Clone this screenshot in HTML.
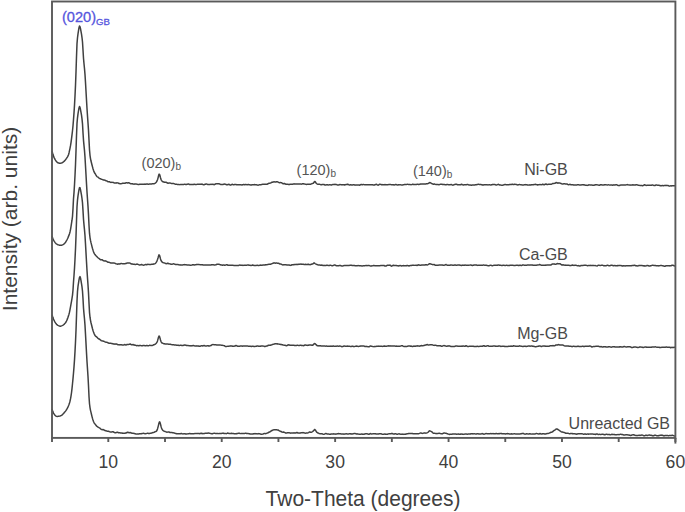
<!DOCTYPE html>
<html><head><meta charset="utf-8"><style>
html,body{margin:0;padding:0;background:#fff;}
body{width:685px;height:512px;overflow:hidden;}
svg{display:block;font-family:"Liberation Sans",sans-serif;}
</style></head><body>
<svg width="685" height="512" viewBox="0 0 685 512">
<rect width="685" height="512" fill="#fff"/>
<g fill="none" stroke="#404040" stroke-width="1.5" stroke-linejoin="round">
<path d="M52,150.91 52.5,152.85 53,154.60 53.5,156.13 54,157.39 54.5,158.46 55,159.41 55.5,160.23 56,160.90 56.5,161.51 57,162.08 57.5,162.54 58,162.81 58.5,162.94 59,163.05 59.5,163.14 60,163.19 60.5,163.20 61,163.13 61.5,162.97 62,162.78 62.5,162.54 63,162.20 63.5,161.80 64,161.36 64.5,160.88 65,160.32 65.5,159.71 66,159.06 66.5,158.37 67,157.59 67.5,156.80 68,155.93 68.5,154.80 69,152.95 69.5,150.71 70,148.33 70.5,145.68 71,142.61 71.5,138.92 72,134.89 72.5,130.74 73,125.71 73.5,119.54 74,112.91 74.5,105.08 75,95.94 75.5,85.35 76,71.97 76.5,56.73 77,43.61 77.5,37.75 78,33.85 78.5,30.63 79,27.66 79.5,26.05 80,26.62 80.5,28.68 81,31.41 81.5,34.16 82,37.53 82.5,42.01 83,49.99 83.5,58.30 84,63.77 84.5,68.61 85,74.44 85.5,82.55 86,91.17 86.5,100.01 87,108.55 87.5,116.04 88,122.96 88.5,130.41 89,140.16 89.5,149.78 90,155.29 90.5,158.55 91,161.05 91.5,163.04 92,165.00 92.5,166.91 93,168.69 93.5,170.28 94,171.68 94.5,172.79 95,173.47 95.5,174.18 96,175.12 96.5,175.99 97,176.55 97.5,176.83 98,177.09 98.5,177.53 99,178.13 99.5,178.43 100,178.61 100.5,178.75 101,178.98 101.5,179.18 102,179.36 102.5,179.59 103,179.82 103.5,180.00 104,180.01 104.5,180.06 105,180.30 105.5,180.55 106,180.70 106.5,180.89 107,181.06 107.5,181.47 108,181.77 108.5,181.78 109,181.68 109.5,181.71 110,182.10 110.5,182.35 111,182.44 111.5,182.36 112,182.25 112.5,182.38 113,182.46 113.5,182.53 114,182.78 114.5,182.93 115,183.09 115.5,183.11 116,183.10 116.5,182.98 117,182.79 117.5,182.87 118,182.96 118.5,183.25 119,183.44 119.5,183.57 120,183.75 120.5,183.83 121,183.80 121.5,183.64 122,183.48 122.5,183.35 123,183.27 123.5,183.24 124,183.24 124.5,183.27 125,183.27 125.5,183.04 126,182.85 126.5,182.74 127,182.83 127.5,182.98 128,182.91 128.5,182.77 129,182.83 129.5,183.03 130,183.39 130.5,183.75 131,183.74 131.5,183.77 132,183.75 132.5,183.81 133,184.03 133.5,184.11 134,184.15 134.5,184.04 135,183.96 135.5,183.91 136,183.96 136.5,184.07 137,184.16 137.5,184.31 138,184.39 138.5,184.45 139,184.40 139.5,184.30 140,184.25 140.5,184.18 141,184.21 141.5,184.27 142,184.35 142.5,184.30 143,184.28 143.5,184.23 144,184.15 144.5,184.17 145,184.07 145.5,184.15 146,184.17 146.5,184.09 147,184.00 147.5,184.06 148,184.18 148.5,184.18 149,184.13 149.5,183.89 150,183.98 150.5,183.98 151,183.98 151.5,184.04 152,183.82 152.5,183.81 153,183.75 153.5,183.73 154,183.73 154.5,183.57 155,183.29 155.5,182.97 156,182.50 156.5,181.88 157,180.97 157.5,179.79 158,178.12 158.5,175.98 159,174.29 159.5,174.15 160,175.76 160.5,177.76 161,179.33 161.5,180.33 162,181.04 162.5,181.58 163,181.73 163.5,181.94 164,182.04 164.5,182.15 165,182.26 165.5,182.18 166,182.22 166.5,182.41 167,182.78 167.5,183.05 168,183.23 168.5,183.18 169,182.97 169.5,182.94 170,182.98 170.5,183.14 171,183.37 171.5,183.48 172,183.50 172.5,183.46 173,183.42 173.5,183.47 174,183.63 174.5,183.88 175,184.13 175.5,184.25 176,184.33 176.5,184.34 177,184.35 177.5,184.50 178,184.45 178.5,184.42 179,184.53 179.5,184.62 180,184.63 180.5,184.53 181,184.47 181.5,184.52 182,184.52 182.5,184.53 183,184.39 183.5,184.38 184,184.38 184.5,184.23 185,184.35 185.5,184.39 186,184.36 186.5,184.41 187,184.29 187.5,184.15 188,184.10 188.5,184.06 189,184.23 189.5,184.43 190,184.49 190.5,184.48 191,184.43 191.5,184.50 192,184.53 192.5,184.53 193,184.56 193.5,184.40 194,184.29 194.5,184.33 195,184.42 195.5,184.52 196,184.53 196.5,184.38 197,184.37 197.5,184.33 198,184.32 198.5,184.24 199,184.29 199.5,184.34 200,184.24 200.5,184.23 201,184.11 201.5,184.20 202,184.24 202.5,184.26 203,184.57 203.5,184.64 204,184.69 204.5,184.50 205,184.28 205.5,184.23 206,184.06 206.5,184.06 207,184.13 207.5,184.43 208,184.50 208.5,184.46 209,184.62 209.5,184.57 210,184.52 210.5,184.36 211,184.16 211.5,184.31 212,184.42 212.5,184.37 213,184.32 213.5,184.46 214,184.67 214.5,184.54 215,184.28 215.5,183.90 216,183.81 216.5,183.87 217,183.85 217.5,183.85 218,183.81 218.5,183.82 219,183.79 219.5,183.93 220,184.18 220.5,184.42 221,184.51 221.5,184.58 222,184.56 222.5,184.55 223,184.48 223.5,184.32 224,184.25 224.5,184.06 225,184.12 225.5,184.28 226,184.45 226.5,184.71 227,184.70 227.5,184.72 228,184.53 228.5,184.33 229,184.33 229.5,184.55 230,184.96 230.5,185.14 231,185.01 231.5,184.61 232,184.37 232.5,184.34 233,184.59 233.5,184.76 234,184.73 234.5,184.59 235,184.50 235.5,184.49 236,184.54 236.5,184.69 237,184.69 237.5,184.73 238,184.70 238.5,184.73 239,184.79 239.5,184.75 240,184.66 240.5,184.70 241,184.74 241.5,184.88 242,184.93 242.5,184.78 243,184.67 243.5,184.56 244,184.58 244.5,184.71 245,184.70 245.5,184.59 246,184.52 246.5,184.64 247,184.64 247.5,184.64 248,184.56 248.5,184.55 249,184.69 249.5,184.69 250,184.85 250.5,184.93 251,185.00 251.5,184.96 252,184.79 252.5,184.76 253,184.72 253.5,184.65 254,184.66 254.5,184.61 255,184.71 255.5,184.80 256,184.77 256.5,184.85 257,184.92 257.5,185.08 258,185.16 258.5,185.02 259,184.86 259.5,184.70 260,184.71 260.5,184.77 261,184.69 261.5,184.60 262,184.39 262.5,184.37 263,184.36 263.5,184.24 264,184.25 264.5,184.22 265,184.16 265.5,184.16 266,184.26 266.5,184.19 267,184.26 267.5,184.01 268,183.71 268.5,183.58 269,183.20 269.5,183.16 270,183.13 270.5,183.00 271,182.85 271.5,182.45 272,182.20 272.5,182.18 273,182.04 273.5,181.95 274,181.84 274.5,181.84 275,182.08 275.5,182.09 276,181.95 276.5,181.84 277,181.78 277.5,181.86 278,182.05 278.5,182.30 279,182.54 279.5,182.65 280,182.67 280.5,182.56 281,182.63 281.5,182.69 282,183.01 282.5,183.45 283,183.68 283.5,183.79 284,183.51 284.5,183.53 285,183.78 285.5,183.99 286,184.26 286.5,184.30 287,184.17 287.5,184.26 288,184.35 288.5,184.45 289,184.56 289.5,184.51 290,184.31 290.5,184.24 291,184.29 291.5,184.22 292,184.35 292.5,184.29 293,184.06 293.5,184.00 294,183.84 294.5,183.91 295,183.97 295.5,184.03 296,184.05 296.5,184.04 297,184.04 297.5,183.92 298,184.02 298.5,184.06 299,184.09 299.5,183.95 300,183.88 300.5,183.98 301,184.07 301.5,184.14 302,183.96 302.5,183.82 303,183.75 303.5,183.78 304,183.95 304.5,184.04 305,184.13 305.5,184.20 306,184.27 306.5,184.41 307,184.36 307.5,184.28 308,184.27 308.5,184.23 309,184.31 309.5,184.22 310,184.23 310.5,184.15 311,184.03 311.5,183.86 312,183.61 312.5,183.55 313,183.38 313.5,183.03 314,182.23 314.5,181.59 315,181.61 315.5,182.12 316,182.93 316.5,183.53 317,183.92 317.5,184.20 318,184.21 318.5,184.20 319,184.16 319.5,184.22 320,184.42 320.5,184.62 321,184.80 321.5,184.71 322,184.59 322.5,184.52 323,184.40 323.5,184.45 324,184.56 324.5,184.73 325,184.99 325.5,185.04 326,184.92 326.5,184.87 327,184.81 327.5,184.83 328,184.93 328.5,184.89 329,184.85 329.5,184.75 330,184.72 330.5,184.83 331,184.91 331.5,184.93 332,184.77 332.5,184.60 333,184.55 333.5,184.50 334,184.52 334.5,184.44 335,184.34 335.5,184.42 336,184.48 336.5,184.59 337,184.80 337.5,184.91 338,185.07 338.5,185.05 339,184.86 339.5,184.76 340,184.56 340.5,184.61 341,184.64 341.5,184.75 342,184.89 342.5,184.75 343,184.77 343.5,184.79 344,184.82 344.5,184.99 345,184.77 345.5,184.64 346,184.54 346.5,184.51 347,184.52 347.5,184.29 348,184.33 348.5,184.55 349,184.83 349.5,185.05 350,184.97 350.5,184.80 351,184.85 351.5,184.93 352,184.90 352.5,184.90 353,184.84 353.5,184.66 354,184.80 354.5,184.95 355,184.98 355.5,185.13 356,185.00 356.5,184.88 357,184.99 357.5,184.93 358,184.96 358.5,185.05 359,185.08 359.5,185.16 360,185.01 360.5,184.67 361,184.57 361.5,184.52 362,184.66 362.5,184.66 363,184.56 363.5,184.52 364,184.62 364.5,184.69 365,184.71 365.5,184.72 366,184.72 366.5,184.74 367,184.70 367.5,184.65 368,184.65 368.5,184.81 369,184.80 369.5,184.80 370,184.72 370.5,184.72 371,184.76 371.5,184.70 372,184.68 372.5,184.68 373,184.89 373.5,184.99 374,184.99 374.5,184.99 375,184.74 375.5,184.55 376,184.31 376.5,184.23 377,184.63 377.5,184.93 378,185.13 378.5,185.08 379,184.68 379.5,184.33 380,184.24 380.5,184.40 381,184.58 381.5,184.76 382,184.60 382.5,184.66 383,184.87 383.5,184.84 384,184.80 384.5,184.68 385,184.54 385.5,184.67 386,184.66 386.5,184.65 387,184.74 387.5,184.69 388,184.67 388.5,184.58 389,184.46 389.5,184.43 390,184.45 390.5,184.54 391,184.62 391.5,184.74 392,184.79 392.5,184.68 393,184.77 393.5,184.83 394,184.95 394.5,184.91 395,184.70 395.5,184.53 396,184.53 396.5,184.70 397,184.82 397.5,184.91 398,184.90 398.5,184.78 399,184.80 399.5,184.87 400,184.85 400.5,184.81 401,184.88 401.5,184.94 402,184.95 402.5,184.99 403,184.85 403.5,184.73 404,184.67 404.5,184.45 405,184.41 405.5,184.46 406,184.43 406.5,184.44 407,184.38 407.5,184.28 408,184.37 408.5,184.43 409,184.41 409.5,184.53 410,184.49 410.5,184.64 411,184.75 411.5,184.64 412,184.50 412.5,184.30 413,184.26 413.5,184.41 414,184.53 414.5,184.55 415,184.59 415.5,184.49 416,184.50 416.5,184.42 417,184.32 417.5,184.30 418,184.31 418.5,184.46 419,184.41 419.5,184.30 420,184.10 420.5,184.07 421,184.15 421.5,184.01 422,184.02 422.5,184.01 423,184.02 423.5,184.02 424,183.89 424.5,183.97 425,184.04 425.5,184.04 426,183.92 426.5,183.71 427,183.67 427.5,183.66 428,183.59 428.5,183.34 429,182.97 429.5,182.75 430,182.57 430.5,182.80 431,183.08 431.5,183.35 432,183.75 432.5,183.91 433,184.15 433.5,184.21 434,184.05 434.5,184.06 435,184.23 435.5,184.36 436,184.58 436.5,184.52 437,184.40 437.5,184.45 438,184.44 438.5,184.63 439,184.66 439.5,184.53 440,184.34 440.5,184.16 441,184.14 441.5,184.14 442,184.30 442.5,184.40 443,184.36 443.5,184.57 444,184.61 444.5,184.61 445,184.71 445.5,184.70 446,184.76 446.5,184.66 447,184.39 447.5,184.39 448,184.56 448.5,184.64 449,184.64 449.5,184.65 450,184.65 450.5,184.63 451,184.47 451.5,184.54 452,184.88 452.5,185.11 453,185.16 453.5,184.97 454,184.66 454.5,184.53 455,184.43 455.5,184.31 456,184.35 456.5,184.33 457,184.51 457.5,184.72 458,184.83 458.5,184.77 459,184.72 459.5,184.67 460,184.77 460.5,184.79 461,184.50 461.5,184.33 462,184.42 462.5,184.71 463,184.94 463.5,184.96 464,184.85 464.5,184.87 465,184.83 465.5,184.73 466,184.69 466.5,184.64 467,184.56 467.5,184.52 468,184.61 468.5,184.79 469,184.93 469.5,184.94 470,185.05 470.5,185.10 471,185.14 471.5,185.19 472,185.06 472.5,185.02 473,184.96 473.5,184.98 474,185.05 474.5,185.03 475,184.91 475.5,184.68 476,184.68 476.5,184.67 477,184.57 477.5,184.55 478,184.33 478.5,184.28 479,184.38 479.5,184.38 480,184.60 480.5,184.61 481,184.60 481.5,184.69 482,184.79 482.5,185.02 483,185.03 483.5,184.95 484,184.80 484.5,184.81 485,184.78 485.5,184.79 486,184.76 486.5,184.72 487,184.74 487.5,184.85 488,184.88 488.5,184.87 489,184.84 489.5,184.76 490,184.86 490.5,184.88 491,184.92 491.5,184.78 492,184.68 492.5,184.51 493,184.47 493.5,184.50 494,184.43 494.5,184.47 495,184.60 495.5,184.83 496,184.95 496.5,185.02 497,184.87 497.5,184.62 498,184.43 498.5,184.32 499,184.56 499.5,184.94 500,184.97 500.5,185.08 501,185.12 501.5,185.13 502,185.19 502.5,185.14 503,185.09 503.5,184.98 504,184.85 504.5,184.57 505,184.56 505.5,184.60 506,184.67 506.5,184.79 507,184.69 507.5,184.75 508,184.68 508.5,184.73 509,184.67 509.5,184.57 510,184.57 510.5,184.54 511,184.59 511.5,184.41 512,184.30 512.5,184.28 513,184.47 513.5,184.59 514,184.45 514.5,184.28 515,184.24 515.5,184.37 516,184.48 516.5,184.59 517,184.73 517.5,184.91 518,184.89 518.5,184.76 519,184.65 519.5,184.51 520,184.59 520.5,184.63 521,184.67 521.5,184.83 522,184.88 522.5,184.98 523,185.09 523.5,185.05 524,184.89 524.5,184.70 525,184.65 525.5,184.62 526,184.70 526.5,184.73 527,184.81 527.5,185.02 528,185.12 528.5,185.05 529,184.95 529.5,184.90 530,184.84 530.5,184.92 531,184.92 531.5,184.85 532,184.87 532.5,184.78 533,184.81 533.5,184.72 534,184.58 534.5,184.50 535,184.40 535.5,184.34 536,184.47 536.5,184.64 537,184.80 537.5,184.96 538,184.84 538.5,184.87 539,184.73 539.5,184.61 540,184.58 540.5,184.61 541,184.74 541.5,184.64 542,184.46 542.5,184.26 543,184.32 543.5,184.55 544,184.77 544.5,184.67 545,184.31 545.5,184.10 546,184.08 546.5,184.25 547,184.46 547.5,184.48 548,184.39 548.5,184.26 549,184.15 549.5,184.15 550,184.19 550.5,184.33 551,184.28 551.5,184.16 552,183.89 552.5,183.54 553,183.46 553.5,183.43 554,183.41 554.5,183.34 555,183.21 555.5,182.96 556,182.59 556.5,182.58 557,182.79 557.5,183.11 558,183.18 558.5,182.87 559,182.94 559.5,182.95 560,183.09 560.5,183.29 561,183.43 561.5,183.80 562,183.88 562.5,184.03 563,184.03 563.5,183.85 564,183.74 564.5,183.72 565,183.91 565.5,184.10 566,184.06 566.5,183.91 567,184.02 567.5,184.23 568,184.60 568.5,184.77 569,184.62 569.5,184.41 570,184.34 570.5,184.52 571,184.77 571.5,184.82 572,184.80 572.5,184.77 573,184.81 573.5,184.92 574,184.89 574.5,184.93 575,184.96 575.5,184.99 576,184.94 576.5,184.90 577,184.89 577.5,184.73 578,184.72 578.5,184.70 579,184.85 579.5,185.02 580,184.98 580.5,184.97 581,184.92 581.5,184.90 582,184.75 582.5,184.80 583,184.77 583.5,184.79 584,184.89 584.5,184.87 585,185.06 585.5,185.14 586,185.20 586.5,185.22 587,185.39 587.5,185.31 588,185.19 588.5,185.03 589,184.80 589.5,184.87 590,184.99 590.5,185.04 591,184.99 591.5,184.94 592,184.93 592.5,185.18 593,185.36 593.5,185.34 594,185.21 594.5,185.02 595,184.93 595.5,184.82 596,184.78 596.5,184.76 597,184.80 597.5,184.87 598,184.99 598.5,185.13 599,185.26 599.5,185.22 600,184.96 600.5,184.81 601,184.77 601.5,184.84 602,184.91 602.5,184.98 603,185.04 603.5,185.01 604,184.92 604.5,184.77 605,184.77 605.5,184.78 606,184.78 606.5,184.87 607,184.93 607.5,184.96 608,184.87 608.5,184.80 609,184.88 609.5,185.05 610,185.12 610.5,184.98 611,184.97 611.5,184.99 612,185.10 612.5,185.18 613,185.00 613.5,184.90 614,184.86 614.5,184.97 615,185.10 615.5,184.88 616,184.69 616.5,184.63 617,184.85 617.5,185.20 618,185.42 618.5,185.55 619,185.58 619.5,185.56 620,185.25 620.5,185.10 621,185.04 621.5,185.01 622,185.10 622.5,185.07 623,185.03 623.5,185.02 624,184.93 624.5,184.93 625,184.95 625.5,184.99 626,184.88 626.5,184.78 627,184.66 627.5,184.59 628,184.77 628.5,184.87 629,185.01 629.5,185.03 630,185.12 630.5,185.10 631,185.14 631.5,185.01 632,184.84 632.5,184.90 633,184.84 633.5,184.96 634,185.06 634.5,185.03 635,185.05 635.5,184.98 636,184.82 636.5,184.83 637,184.79 637.5,184.98 638,185.12 638.5,185.27 639,185.31 639.5,185.38 640,185.51 640.5,185.46 641,185.52 641.5,185.46 642,185.55 642.5,185.68 643,185.63 643.5,185.41 644,185.00 644.5,184.75 645,184.88 645.5,185.14 646,185.39 646.5,185.38 647,185.26 647.5,185.19 648,185.22 648.5,185.16 649,185.21 649.5,185.15 650,185.13 650.5,185.19 651,185.14 651.5,185.18 652,185.09 652.5,185.10 653,185.09 653.5,185.37 654,185.53 654.5,185.53 655,185.47 655.5,185.20 656,185.04 656.5,185.01 657,185.11 657.5,185.19 658,185.34 658.5,185.26 659,185.26 659.5,185.41 660,185.51 660.5,185.67 661,185.63 661.5,185.63 662,185.58 662.5,185.60 663,185.69 663.5,185.66 664,185.58 664.5,185.53 665,185.43 665.5,185.40 666,185.37 666.5,185.40 667,185.54 667.5,185.49 668,185.52 668.5,185.65 669,185.98 669.5,186.15 670,186.01 670.5,185.84 671,185.82 671.5,185.90 672,185.80 672.5,185.76 673,185.77 673.5,185.74 674,185.73 674.5,185.66 675,185.68"/>
<path d="M52,236.00 52.5,237.42 53,238.71 53.5,239.85 54,240.79 54.5,241.61 55,242.36 55.5,243.02 56,243.53 56.5,243.90 57,244.23 57.5,244.50 58,244.71 58.5,244.89 59,245.04 59.5,245.17 60,245.28 60.5,245.34 61,245.36 61.5,245.27 62,245.10 62.5,244.87 63,244.63 63.5,244.33 64,243.93 64.5,243.46 65,242.90 65.5,242.24 66,241.48 66.5,240.66 67,239.75 67.5,238.73 68,237.62 68.5,236.41 69,235.13 69.5,233.70 70,231.95 70.5,229.62 71,226.70 71.5,223.44 72,220.24 72.5,216.30 73,208.67 73.5,198.77 74,192.62 74.5,184.79 75,175.51 75.5,164.69 76,150.96 76.5,135.71 77,123.42 77.5,117.78 78,113.97 78.5,110.75 79,107.89 79.5,106.51 80,107.30 80.5,109.53 81,112.33 81.5,115.20 82,118.82 82.5,123.82 83,132.67 83.5,140.31 84,145.56 84.5,150.61 85,157.23 85.5,165.92 86,174.71 86.5,183.70 87,192.03 87.5,199.27 88,206.40 88.5,214.85 89,225.30 89.5,233.43 90,237.52 90.5,240.39 91,242.63 91.5,244.57 92,246.56 92.5,248.46 93,250.14 93.5,251.66 94,252.90 94.5,253.86 95,254.57 95.5,255.16 96,255.80 96.5,256.29 97,256.81 97.5,257.34 98,257.74 98.5,258.11 99,258.51 99.5,258.92 100,259.33 100.5,259.78 101,259.88 101.5,259.74 102,259.72 102.5,259.95 103,260.43 103.5,260.82 104,260.87 104.5,260.90 105,260.86 105.5,260.94 106,261.02 106.5,261.32 107,261.66 107.5,261.99 108,262.20 108.5,262.12 109,262.36 109.5,262.39 110,262.58 110.5,262.88 111,262.88 111.5,262.91 112,262.92 112.5,262.94 113,263.03 113.5,263.03 114,262.95 114.5,263.12 115,263.34 115.5,263.54 116,263.74 116.5,263.90 117,264.10 117.5,264.19 118,263.99 118.5,263.91 119,263.87 119.5,263.88 120,263.91 120.5,263.68 121,263.54 121.5,263.57 122,263.63 122.5,263.68 123,263.67 123.5,263.70 124,263.75 124.5,263.73 125,263.73 125.5,263.59 126,263.52 126.5,263.30 127,263.09 127.5,263.04 128,263.01 128.5,263.07 129,263.00 129.5,263.03 130,263.12 130.5,263.42 131,263.79 131.5,263.93 132,264.08 132.5,264.09 133,264.19 133.5,264.33 134,264.24 134.5,264.33 135,264.43 135.5,264.47 136,264.38 136.5,264.19 137,264.11 137.5,264.21 138,264.42 138.5,264.65 139,264.79 139.5,264.89 140,264.94 140.5,264.85 141,264.69 141.5,264.54 142,264.54 142.5,264.84 143,265.12 143.5,265.14 144,265.15 144.5,264.90 145,264.72 145.5,264.58 146,264.60 146.5,264.78 147,264.55 147.5,264.48 148,264.29 148.5,264.37 149,264.53 149.5,264.44 150,264.50 150.5,264.47 151,264.39 151.5,264.37 152,264.34 152.5,264.30 153,264.28 153.5,264.03 154,263.98 154.5,263.86 155,263.61 155.5,263.29 156,262.62 156.5,261.81 157,260.81 157.5,259.52 158,257.97 158.5,256.16 159,254.85 159.5,255.27 160,256.96 160.5,258.92 161,260.47 161.5,261.32 162,261.93 162.5,262.28 163,262.63 163.5,262.79 164,262.88 164.5,262.99 165,263.14 165.5,263.47 166,263.66 166.5,263.68 167,263.46 167.5,263.23 168,263.26 168.5,263.49 169,263.68 169.5,263.81 170,263.87 170.5,263.98 171,264.18 171.5,264.27 172,264.29 172.5,264.11 173,263.89 173.5,263.85 174,263.85 174.5,264.07 175,264.34 175.5,264.49 176,264.57 176.5,264.50 177,264.46 177.5,264.51 178,264.60 178.5,264.70 179,264.77 179.5,264.88 180,264.88 180.5,264.87 181,264.97 181.5,264.98 182,265.04 182.5,265.01 183,264.85 183.5,264.77 184,264.63 184.5,264.62 185,264.63 185.5,264.65 186,264.79 186.5,264.85 187,265.00 187.5,265.05 188,265.04 188.5,265.00 189,264.89 189.5,265.05 190,265.17 190.5,265.32 191,265.27 191.5,265.11 192,264.96 192.5,264.77 193,264.72 193.5,264.78 194,264.90 194.5,264.92 195,264.83 195.5,264.75 196,264.70 196.5,264.57 197,264.55 197.5,264.47 198,264.48 198.5,264.51 199,264.48 199.5,264.63 200,264.70 200.5,264.77 201,264.77 201.5,264.68 202,264.73 202.5,264.83 203,264.92 203.5,264.97 204,264.95 204.5,264.96 205,265.12 205.5,265.12 206,265.12 206.5,265.10 207,265.00 207.5,264.92 208,264.88 208.5,264.91 209,264.99 209.5,265.06 210,265.01 210.5,264.92 211,264.91 211.5,264.79 212,264.75 212.5,264.70 213,264.67 213.5,264.85 214,264.92 214.5,264.99 215,264.97 215.5,264.85 216,264.70 216.5,264.47 217,264.31 217.5,264.27 218,264.31 218.5,264.29 219,264.34 219.5,264.44 220,264.65 220.5,264.80 221,265.00 221.5,265.07 222,265.12 222.5,265.25 223,265.07 223.5,265.07 224,265.05 224.5,265.20 225,265.27 225.5,265.14 226,264.88 226.5,264.74 227,264.80 227.5,265.01 228,265.22 228.5,265.31 229,265.26 229.5,265.16 230,265.24 230.5,265.23 231,265.31 231.5,265.21 232,265.13 232.5,265.17 233,265.25 233.5,265.39 234,265.40 234.5,265.42 235,265.40 235.5,265.53 236,265.58 236.5,265.52 237,265.49 237.5,265.46 238,265.41 238.5,265.49 239,265.32 239.5,265.11 240,265.12 240.5,265.17 241,265.32 241.5,265.35 242,265.32 242.5,265.31 243,265.39 243.5,265.34 244,265.27 244.5,265.28 245,265.31 245.5,265.28 246,265.22 246.5,265.23 247,265.12 247.5,265.05 248,265.04 248.5,265.06 249,265.21 249.5,265.31 250,265.21 250.5,265.40 251,265.44 251.5,265.40 252,265.24 252.5,264.97 253,265.17 253.5,265.32 254,265.49 254.5,265.45 255,265.46 255.5,265.52 256,265.40 256.5,265.39 257,265.24 257.5,265.31 258,265.41 258.5,265.39 259,265.42 259.5,265.30 260,265.13 260.5,265.12 261,265.16 261.5,265.29 262,265.33 262.5,265.08 263,264.88 263.5,264.91 264,264.98 264.5,265.09 265,264.96 265.5,264.73 266,264.69 266.5,264.67 267,264.71 267.5,264.61 268,264.48 268.5,264.36 269,264.29 269.5,264.23 270,264.27 270.5,264.20 271,264.07 271.5,263.84 272,263.62 272.5,263.45 273,263.19 273.5,262.98 274,262.87 274.5,262.89 275,263.07 275.5,263.16 276,263.04 276.5,263.03 277,263.11 277.5,263.24 278,263.31 278.5,263.34 279,263.47 279.5,263.83 280,264.04 280.5,264.08 281,264.10 281.5,264.26 282,264.61 282.5,264.77 283,264.90 283.5,264.85 284,264.81 284.5,264.80 285,264.69 285.5,264.75 286,264.74 286.5,264.91 287,264.98 287.5,264.98 288,265.03 288.5,264.96 289,265.00 289.5,265.07 290,265.36 290.5,265.38 291,265.29 291.5,265.05 292,264.75 292.5,264.78 293,264.66 293.5,264.62 294,264.72 294.5,264.58 295,264.54 295.5,264.48 296,264.36 296.5,264.46 297,264.42 297.5,264.37 298,264.46 298.5,264.32 299,264.29 299.5,264.25 300,264.11 300.5,264.13 301,264.06 301.5,264.18 302,264.20 302.5,264.18 303,264.16 303.5,264.29 304,264.42 304.5,264.53 305,264.45 305.5,264.36 306,264.45 306.5,264.49 307,264.59 307.5,264.42 308,264.24 308.5,264.28 309,264.48 309.5,264.61 310,264.69 310.5,264.52 311,264.40 311.5,264.21 312,264.05 312.5,264.08 313,263.81 313.5,263.37 314,262.94 314.5,263.09 315,263.49 315.5,263.85 316,264.13 316.5,264.25 317,264.59 317.5,264.71 318,264.88 318.5,265.04 319,265.07 319.5,265.04 320,265.07 320.5,265.17 321,265.17 321.5,265.10 322,265.14 322.5,265.31 323,265.53 323.5,265.57 324,265.37 324.5,265.39 325,265.48 325.5,265.53 326,265.48 326.5,265.35 327,265.34 327.5,265.34 328,265.40 328.5,265.51 329,265.58 329.5,265.49 330,265.29 330.5,265.24 331,265.40 331.5,265.56 332,265.69 332.5,265.71 333,265.61 333.5,265.36 334,265.07 334.5,264.93 335,265.03 335.5,265.30 336,265.57 336.5,265.74 337,265.65 337.5,265.71 338,265.72 338.5,265.76 339,265.73 339.5,265.42 340,265.41 340.5,265.49 341,265.70 341.5,265.92 342,265.97 342.5,266.01 343,265.87 343.5,265.71 344,265.58 344.5,265.39 345,265.38 345.5,265.38 346,265.47 346.5,265.60 347,265.47 347.5,265.40 348,265.46 348.5,265.45 349,265.47 349.5,265.39 350,265.25 350.5,265.32 351,265.36 351.5,265.32 352,265.41 352.5,265.49 353,265.46 353.5,265.50 354,265.55 354.5,265.59 355,265.71 355.5,265.74 356,265.67 356.5,265.73 357,265.74 357.5,265.64 358,265.62 358.5,265.62 359,265.72 359.5,265.76 360,265.70 360.5,265.73 361,265.76 361.5,265.89 362,265.95 362.5,265.88 363,265.87 363.5,265.73 364,265.70 364.5,265.72 365,265.63 365.5,265.59 366,265.51 366.5,265.56 367,265.65 367.5,265.59 368,265.49 368.5,265.44 369,265.50 369.5,265.64 370,265.88 370.5,266.02 371,266.02 371.5,265.96 372,265.85 372.5,265.85 373,265.71 373.5,265.54 374,265.44 374.5,265.64 375,265.71 375.5,265.75 376,265.71 376.5,265.68 377,265.78 377.5,265.67 378,265.74 378.5,265.73 379,265.83 379.5,265.81 380,265.68 380.5,265.61 381,265.48 381.5,265.48 382,265.61 382.5,265.61 383,265.49 383.5,265.38 384,265.45 384.5,265.74 385,266.01 385.5,266.09 386,265.92 386.5,265.77 387,265.42 387.5,265.21 388,265.28 388.5,265.28 389,265.29 389.5,265.14 390,265.12 390.5,265.41 391,265.86 391.5,266.16 392,266.04 392.5,265.62 393,265.29 393.5,265.32 394,265.45 394.5,265.52 395,265.41 395.5,265.38 396,265.51 396.5,265.60 397,265.73 397.5,265.78 398,265.84 398.5,265.94 399,265.85 399.5,265.70 400,265.57 400.5,265.61 401,265.80 401.5,265.94 402,265.84 402.5,265.74 403,265.66 403.5,265.61 404,265.64 404.5,265.63 405,265.76 405.5,265.82 406,265.76 406.5,265.72 407,265.46 407.5,265.41 408,265.66 408.5,265.79 409,265.93 409.5,265.76 410,265.59 410.5,265.52 411,265.50 411.5,265.46 412,265.36 412.5,265.35 413,265.30 413.5,265.20 414,265.30 414.5,265.38 415,265.31 415.5,265.37 416,265.24 416.5,265.29 417,265.43 417.5,265.29 418,265.02 418.5,264.84 419,264.82 419.5,265.08 420,265.27 420.5,265.20 421,265.15 421.5,265.08 422,265.09 422.5,265.09 423,264.98 423.5,265.07 424,265.04 424.5,264.99 425,264.94 425.5,264.75 426,264.78 426.5,264.82 427,264.93 427.5,264.95 428,264.69 428.5,264.41 429,263.97 429.5,263.71 430,263.71 430.5,263.87 431,264.13 431.5,264.17 432,264.36 432.5,264.54 433,264.64 433.5,264.62 434,264.53 434.5,264.77 435,265.02 435.5,265.24 436,265.28 436.5,265.25 437,265.31 437.5,265.23 438,265.22 438.5,265.14 439,265.02 439.5,265.07 440,265.03 440.5,265.07 441,265.04 441.5,264.99 442,265.01 442.5,265.10 443,265.21 443.5,265.25 444,265.38 444.5,265.14 445,264.94 445.5,264.62 446,264.50 446.5,264.80 447,265.05 447.5,265.31 448,265.24 448.5,265.28 449,265.31 449.5,265.32 450,265.22 450.5,265.07 451,265.04 451.5,265.05 452,265.12 452.5,265.13 453,265.13 453.5,265.22 454,265.17 454.5,265.06 455,265.06 455.5,265.03 456,265.16 456.5,265.20 457,265.16 457.5,265.11 458,264.97 458.5,265.00 459,264.97 459.5,265.02 460,265.16 460.5,265.18 461,265.47 461.5,265.46 462,265.30 462.5,265.17 463,265.12 463.5,265.29 464,265.23 464.5,265.21 465,265.09 465.5,265.11 466,265.24 466.5,265.17 467,265.19 467.5,265.19 468,265.15 468.5,265.24 469,265.19 469.5,265.12 470,265.04 470.5,264.89 471,265.04 471.5,265.20 472,265.43 472.5,265.44 473,265.25 473.5,265.17 474,265.02 474.5,265.08 475,265.06 475.5,265.09 476,265.06 476.5,265.06 477,265.22 477.5,265.35 478,265.38 478.5,265.20 479,265.20 479.5,265.23 480,265.33 480.5,265.35 481,265.19 481.5,265.27 482,265.16 482.5,265.13 483,265.16 483.5,265.00 484,265.10 484.5,265.14 485,265.24 485.5,265.29 486,265.25 486.5,265.31 487,265.40 487.5,265.58 488,265.64 488.5,265.64 489,265.69 489.5,265.53 490,265.38 490.5,265.28 491,265.26 491.5,265.47 492,265.64 492.5,265.64 493,265.56 493.5,265.39 494,265.26 494.5,265.20 495,265.24 495.5,265.28 496,265.28 496.5,265.28 497,265.20 497.5,265.21 498,265.06 498.5,265.02 499,265.06 499.5,265.16 500,265.35 500.5,265.21 501,265.33 501.5,265.41 502,265.47 502.5,265.39 503,265.18 503.5,265.22 504,265.26 504.5,265.38 505,265.42 505.5,265.43 506,265.37 506.5,265.37 507,265.35 507.5,265.41 508,265.60 508.5,265.58 509,265.56 509.5,265.50 510,265.30 510.5,265.29 511,265.31 511.5,265.26 512,265.23 512.5,265.22 513,265.27 513.5,265.39 514,265.48 514.5,265.48 515,265.48 515.5,265.39 516,265.28 516.5,265.31 517,265.17 517.5,265.16 518,265.39 518.5,265.36 519,265.54 519.5,265.31 520,265.10 520.5,265.32 521,265.44 521.5,265.54 522,265.31 522.5,264.97 523,264.89 523.5,265.00 524,265.13 524.5,265.23 525,265.23 525.5,265.31 526,265.33 526.5,265.17 527,265.17 527.5,264.96 528,265.00 528.5,265.07 529,265.02 529.5,265.13 530,265.01 530.5,265.04 531,265.05 531.5,265.01 532,265.06 532.5,265.06 533,265.20 533.5,265.29 534,265.18 534.5,265.18 535,265.16 535.5,265.16 536,265.14 536.5,265.17 537,265.11 537.5,265.09 538,265.03 538.5,264.87 539,264.75 539.5,264.58 540,264.58 540.5,264.83 541,265.16 541.5,265.33 542,265.20 542.5,265.14 543,265.19 543.5,265.20 544,265.32 544.5,265.23 545,265.17 545.5,265.22 546,265.06 546.5,265.13 547,265.08 547.5,265.05 548,265.04 548.5,264.95 549,265.03 549.5,265.03 550,265.10 550.5,265.06 551,264.93 551.5,264.55 552,264.21 552.5,264.07 553,264.03 553.5,264.05 554,263.99 554.5,264.04 555,264.22 555.5,264.34 556,264.17 556.5,263.96 557,263.64 557.5,263.57 558,263.67 558.5,263.70 559,263.80 559.5,263.77 560,263.80 560.5,264.02 561,264.44 561.5,264.78 562,265.01 562.5,264.96 563,264.79 563.5,264.95 564,265.02 564.5,265.13 565,265.16 565.5,265.12 566,265.22 566.5,265.29 567,265.25 567.5,265.19 568,265.30 568.5,265.31 569,265.34 569.5,265.39 570,265.42 570.5,265.64 571,265.52 571.5,265.33 572,265.18 572.5,265.03 573,265.18 573.5,265.33 574,265.42 574.5,265.37 575,265.21 575.5,265.15 576,265.21 576.5,265.44 577,265.63 577.5,265.69 578,265.65 578.5,265.62 579,265.85 579.5,265.95 580,265.92 580.5,265.76 581,265.57 581.5,265.51 582,265.51 582.5,265.46 583,265.52 583.5,265.39 584,265.21 584.5,265.30 585,265.35 585.5,265.35 586,265.29 586.5,265.38 587,265.58 587.5,265.66 588,265.64 588.5,265.53 589,265.57 589.5,265.47 590,265.40 590.5,265.36 591,265.48 591.5,265.53 592,265.55 592.5,265.54 593,265.37 593.5,265.48 594,265.43 594.5,265.54 595,265.62 595.5,265.62 596,265.77 596.5,265.88 597,265.95 597.5,265.73 598,265.41 598.5,265.25 599,265.19 599.5,265.38 600,265.54 600.5,265.46 601,265.38 601.5,265.21 602,265.14 602.5,265.24 603,265.41 603.5,265.66 604,265.72 604.5,265.63 605,265.62 605.5,265.69 606,265.84 606.5,265.65 607,265.33 607.5,265.23 608,265.26 608.5,265.61 609,265.77 609.5,265.81 610,265.70 610.5,265.43 611,265.32 611.5,265.27 612,265.35 612.5,265.48 613,265.59 613.5,265.73 614,265.67 614.5,265.60 615,265.57 615.5,265.68 616,265.82 616.5,265.81 617,265.69 617.5,265.58 618,265.63 618.5,265.60 619,265.59 619.5,265.53 620,265.57 620.5,265.57 621,265.63 621.5,265.62 622,265.75 622.5,265.99 623,265.96 623.5,265.86 624,265.82 624.5,265.87 625,265.99 625.5,265.94 626,265.70 626.5,265.69 627,265.74 627.5,265.74 628,265.78 628.5,265.77 629,265.70 629.5,265.75 630,265.67 630.5,265.74 631,265.76 631.5,265.70 632,265.58 632.5,265.51 633,265.43 633.5,265.42 634,265.35 634.5,265.28 635,265.44 635.5,265.59 636,265.90 636.5,265.84 637,265.85 637.5,265.95 638,265.87 638.5,265.79 639,265.53 639.5,265.44 640,265.57 640.5,265.48 641,265.47 641.5,265.47 642,265.47 642.5,265.67 643,265.64 643.5,265.78 644,265.91 644.5,265.84 645,265.91 645.5,265.91 646,265.87 646.5,265.71 647,265.49 647.5,265.47 648,265.58 648.5,265.85 649,265.96 649.5,265.95 650,265.94 650.5,265.74 651,265.67 651.5,265.59 652,265.39 652.5,265.24 653,265.26 653.5,265.40 654,265.62 654.5,265.61 655,265.47 655.5,265.55 656,265.65 656.5,265.76 657,265.87 657.5,265.86 658,265.85 658.5,265.90 659,265.70 659.5,265.70 660,265.62 660.5,265.49 661,265.52 661.5,265.51 662,265.64 662.5,265.76 663,265.83 663.5,265.94 664,266.10 664.5,266.19 665,266.21 665.5,266.04 666,265.78 666.5,265.70 667,265.69 667.5,265.83 668,265.78 668.5,265.87 669,265.85 669.5,265.81 670,265.92 670.5,265.70 671,265.70 671.5,265.49 672,265.28 672.5,265.20 673,265.26 673.5,265.50 674,265.67 674.5,265.90 675,265.93"/>
<path d="M52,314.61 52.5,316.18 53,317.63 53.5,318.93 54,320.10 54.5,321.14 55,322.10 55.5,322.92 56,323.60 56.5,324.16 57,324.67 57.5,325.09 58,325.41 58.5,325.68 59,325.90 59.5,326.07 60,326.17 60.5,326.18 61,326.09 61.5,325.91 62,325.67 62.5,325.41 63,325.12 63.5,324.78 64,324.35 64.5,323.86 65,323.30 65.5,322.71 66,321.98 66.5,321.01 67,319.85 67.5,318.60 68,317.29 68.5,315.84 69,314.16 69.5,312.13 70,309.66 70.5,306.95 71,304.23 71.5,301.42 72,298.40 72.5,295.11 73,289.97 73.5,281.96 74,275.51 74.5,268.10 75,259.21 75.5,248.99 76,236.31 76.5,221.01 77,206.74 77.5,200.06 78,195.88 78.5,192.65 79,189.57 79.5,187.63 80,187.80 80.5,189.70 81,192.42 81.5,195.19 82,198.50 82.5,202.90 83,210.65 83.5,219.28 84,224.94 84.5,229.87 85,235.81 85.5,244.07 86,252.84 86.5,261.81 87,270.44 87.5,277.97 88,285.03 88.5,292.83 89,303.00 89.5,312.33 90,317.24 90.5,320.35 91,322.77 91.5,324.75 92,326.76 92.5,328.69 93,330.42 93.5,331.97 94,333.31 94.5,334.36 95,335.50 95.5,336.09 96,336.49 96.5,336.72 97,337.25 97.5,337.86 98,338.31 98.5,338.73 99,338.94 99.5,339.24 100,339.58 100.5,340.02 101,340.51 101.5,340.71 102,340.85 102.5,340.90 103,341.09 103.5,341.23 104,341.35 104.5,341.61 105,341.83 105.5,342.13 106,342.23 106.5,342.16 107,342.35 107.5,342.56 108,342.78 108.5,343.06 109,343.21 109.5,343.21 110,343.26 110.5,343.26 111,343.36 111.5,343.54 112,343.53 112.5,343.69 113,343.83 113.5,343.98 114,344.06 114.5,344.05 115,344.14 115.5,344.05 116,343.98 116.5,343.98 117,344.18 117.5,344.57 118,344.68 118.5,344.83 119,344.85 119.5,344.87 120,344.88 120.5,344.70 121,344.80 121.5,344.84 122,344.91 122.5,344.99 123,345.05 123.5,345.00 124,344.84 124.5,344.62 125,344.60 125.5,344.89 126,344.90 126.5,344.77 127,344.55 127.5,344.44 128,344.43 128.5,344.45 129,344.38 129.5,344.17 130,344.07 130.5,344.12 131,344.48 131.5,344.73 132,344.72 132.5,344.70 133,344.56 133.5,344.78 134,345.08 134.5,345.06 135,345.28 135.5,345.24 136,345.40 136.5,345.69 137,345.65 137.5,345.62 138,345.59 138.5,345.64 139,345.68 139.5,345.53 140,345.44 140.5,345.45 141,345.65 141.5,345.81 142,345.77 142.5,345.65 143,345.53 143.5,345.54 144,345.51 144.5,345.61 145,345.76 145.5,345.82 146,345.71 146.5,345.56 147,345.41 147.5,345.65 148,345.77 148.5,345.76 149,345.63 149.5,345.35 150,345.37 150.5,345.39 151,345.42 151.5,345.49 152,345.48 152.5,345.40 153,345.19 153.5,344.82 154,344.72 154.5,344.56 155,344.34 155.5,343.92 156,343.46 156.5,342.92 157,342.11 157.5,340.92 158,339.08 158.5,337.19 159,336.03 159.5,336.42 160,338.10 160.5,340.06 161,341.51 161.5,342.55 162,342.92 162.5,343.07 163,343.32 163.5,343.56 164,343.80 164.5,343.80 165,343.92 165.5,343.94 166,343.95 166.5,344.00 167,343.89 167.5,343.98 168,344.11 168.5,344.16 169,344.31 169.5,344.26 170,344.37 170.5,344.32 171,344.42 171.5,344.62 172,344.68 172.5,344.77 173,344.71 173.5,344.78 174,344.86 174.5,345.02 175,345.04 175.5,345.07 176,345.10 176.5,345.17 177,345.27 177.5,345.31 178,345.26 178.5,345.26 179,345.42 179.5,345.40 180,345.33 180.5,345.22 181,345.18 181.5,345.40 182,345.47 182.5,345.47 183,345.46 183.5,345.29 184,345.17 184.5,345.04 185,344.98 185.5,345.17 186,345.26 186.5,345.45 187,345.49 187.5,345.49 188,345.58 188.5,345.62 189,345.75 189.5,345.79 190,345.80 190.5,345.81 191,345.89 191.5,345.82 192,345.77 192.5,345.66 193,345.55 193.5,345.54 194,345.69 194.5,345.90 195,346.06 195.5,346.05 196,345.92 196.5,345.92 197,345.86 197.5,345.97 198,345.91 198.5,345.95 199,346.21 199.5,346.25 200,346.33 200.5,346.07 201,345.83 201.5,345.76 202,345.80 202.5,345.91 203,345.82 203.5,345.76 204,345.57 204.5,345.59 205,345.84 205.5,346.01 206,346.04 206.5,345.92 207,345.85 207.5,345.74 208,345.82 208.5,345.94 209,345.85 209.5,346.01 210,345.87 210.5,345.58 211,345.53 211.5,345.15 212,344.80 212.5,344.61 213,344.46 213.5,344.60 214,344.74 214.5,344.81 215,344.84 215.5,344.84 216,344.83 216.5,344.88 217,344.93 217.5,344.90 218,345.06 218.5,345.00 219,345.05 219.5,345.03 220,344.94 220.5,345.06 221,345.12 221.5,345.31 222,345.25 222.5,345.37 223,345.39 223.5,345.54 224,345.63 224.5,345.80 225,346.30 225.5,346.48 226,346.55 226.5,346.44 227,346.37 227.5,346.31 228,346.18 228.5,346.14 229,346.18 229.5,346.12 230,346.11 230.5,345.94 231,345.86 231.5,345.99 232,346.07 232.5,346.26 233,346.28 233.5,346.26 234,346.27 234.5,346.10 235,345.99 235.5,345.68 236,345.48 236.5,345.67 237,345.91 237.5,346.23 238,346.31 238.5,346.15 239,346.17 239.5,346.18 240,346.09 240.5,345.96 241,345.90 241.5,346.02 242,346.09 242.5,346.18 243,346.11 243.5,346.06 244,346.00 244.5,345.88 245,346.01 245.5,346.07 246,346.07 246.5,346.07 247,345.91 247.5,345.98 248,346.15 248.5,346.29 249,346.31 249.5,346.17 250,346.21 250.5,346.22 251,346.40 251.5,346.51 252,346.33 252.5,346.33 253,346.28 253.5,346.31 254,346.54 254.5,346.52 255,346.45 255.5,346.37 256,346.21 256.5,346.20 257,346.03 257.5,346.06 258,346.09 258.5,346.15 259,346.28 259.5,346.19 260,346.22 260.5,346.18 261,346.02 261.5,345.90 262,345.96 262.5,345.98 263,346.00 263.5,346.12 264,346.23 264.5,346.50 265,346.55 265.5,346.32 266,346.18 266.5,346.08 267,346.02 267.5,345.78 268,345.51 268.5,345.23 269,345.25 269.5,345.31 270,345.27 270.5,345.20 271,344.97 271.5,344.90 272,344.73 272.5,344.42 273,344.33 273.5,344.20 274,344.12 274.5,343.99 275,343.73 275.5,343.73 276,343.82 276.5,343.84 277,343.88 277.5,343.85 278,343.96 278.5,344.06 279,344.12 279.5,344.28 280,344.26 280.5,344.42 281,344.51 281.5,344.55 282,344.70 282.5,344.84 283,344.99 283.5,345.12 284,345.13 284.5,345.13 285,345.29 285.5,345.48 286,345.60 286.5,345.69 287,345.52 287.5,345.27 288,344.94 288.5,344.86 289,344.89 289.5,345.00 290,345.20 290.5,345.14 291,345.21 291.5,345.14 292,345.18 292.5,345.22 293,345.24 293.5,345.29 294,345.33 294.5,345.45 295,345.49 295.5,345.50 296,345.48 296.5,345.39 297,345.32 297.5,345.30 298,345.35 298.5,345.38 299,345.43 299.5,345.40 300,345.32 300.5,345.29 301,345.28 301.5,345.43 302,345.48 302.5,345.52 303,345.62 303.5,345.65 304,345.53 304.5,345.23 305,345.04 305.5,345.00 306,345.14 306.5,345.21 307,345.26 307.5,345.40 308,345.33 308.5,345.26 309,345.08 309.5,344.90 310,344.94 310.5,344.91 311,344.96 311.5,345.17 312,345.22 312.5,345.28 313,345.02 313.5,344.42 314,343.96 314.5,343.58 315,343.67 315.5,344.12 316,344.54 316.5,345.17 317,345.54 317.5,345.76 318,345.83 318.5,345.83 319,345.90 319.5,345.84 320,345.80 320.5,345.81 321,345.91 321.5,345.98 322,345.93 322.5,345.92 323,346.00 323.5,345.99 324,345.97 324.5,346.02 325,346.09 325.5,346.13 326,346.09 326.5,346.05 327,346.17 327.5,346.19 328,346.21 328.5,346.18 329,346.18 329.5,346.34 330,346.26 330.5,346.19 331,346.11 331.5,346.15 332,346.23 332.5,346.17 333,346.04 333.5,346.01 334,346.21 334.5,346.35 335,346.34 335.5,346.24 336,346.15 336.5,346.13 337,346.09 337.5,346.11 338,346.17 338.5,346.26 339,346.21 339.5,346.11 340,346.03 340.5,346.12 341,346.36 341.5,346.51 342,346.66 342.5,346.56 343,346.41 343.5,346.21 344,346.07 344.5,346.08 345,346.14 345.5,346.27 346,346.27 346.5,346.20 347,346.13 347.5,346.10 348,346.16 348.5,346.30 349,346.31 349.5,346.29 350,346.38 350.5,346.48 351,346.54 351.5,346.42 352,346.18 352.5,346.12 353,346.24 353.5,346.54 354,346.63 354.5,346.57 355,346.40 355.5,346.22 356,346.21 356.5,346.11 357,346.17 357.5,346.23 358,346.40 358.5,346.45 359,346.37 359.5,346.37 360,346.18 360.5,346.04 361,346.00 361.5,346.06 362,346.11 362.5,346.06 363,345.89 363.5,345.88 364,346.14 364.5,346.25 365,346.48 365.5,346.52 366,346.36 366.5,346.41 367,346.40 367.5,346.59 368,346.78 368.5,346.78 369,346.79 369.5,346.53 370,346.22 370.5,346.09 371,346.10 371.5,346.32 372,346.36 372.5,346.38 373,346.53 373.5,346.62 374,346.70 374.5,346.61 375,346.52 375.5,346.50 376,346.39 376.5,346.31 377,346.25 377.5,346.14 378,346.13 378.5,346.12 379,346.19 379.5,346.26 380,346.26 380.5,346.31 381,346.29 381.5,346.31 382,346.32 382.5,346.38 383,346.38 383.5,346.21 384,346.09 384.5,345.99 385,346.24 385.5,346.35 386,346.30 386.5,346.30 387,346.13 387.5,346.02 388,345.96 388.5,345.85 389,345.89 389.5,345.93 390,345.85 390.5,345.89 391,345.98 391.5,346.04 392,346.02 392.5,345.94 393,345.97 393.5,346.07 394,346.05 394.5,346.11 395,346.08 395.5,346.14 396,346.15 396.5,346.11 397,346.15 397.5,346.16 398,346.25 398.5,346.29 399,346.32 399.5,346.32 400,346.17 400.5,346.08 401,345.89 401.5,345.68 402,345.67 402.5,345.73 403,346.08 403.5,346.36 404,346.50 404.5,346.48 405,346.37 405.5,346.38 406,346.39 406.5,346.44 407,346.39 407.5,346.21 408,346.06 408.5,345.89 409,345.89 409.5,345.99 410,346.05 410.5,346.14 411,346.09 411.5,346.19 412,346.41 412.5,346.51 413,346.47 413.5,346.18 414,346.11 414.5,346.21 415,346.23 415.5,346.30 416,346.03 416.5,345.93 417,345.93 417.5,345.86 418,345.88 418.5,346.03 419,346.09 419.5,346.14 420,346.12 420.5,345.79 421,345.66 421.5,345.58 422,345.66 422.5,345.75 423,345.74 423.5,345.61 424,345.51 424.5,345.29 425,345.16 425.5,345.07 426,344.98 426.5,344.84 427,344.56 427.5,344.58 428,344.87 428.5,345.11 429,345.05 429.5,344.90 430,344.76 430.5,344.79 431,344.79 431.5,344.71 432,344.75 432.5,344.91 433,345.14 433.5,345.32 434,345.38 434.5,345.34 435,345.31 435.5,345.25 436,345.38 436.5,345.51 437,345.66 437.5,345.72 438,345.67 438.5,345.73 439,345.72 439.5,345.75 440,345.62 440.5,345.75 441,346.00 441.5,346.19 442,346.25 442.5,346.06 443,345.83 443.5,345.63 444,345.56 444.5,345.67 445,345.80 445.5,345.99 446,346.13 446.5,346.23 447,346.17 447.5,346.01 448,345.96 448.5,345.93 449,345.86 449.5,345.94 450,346.11 450.5,346.29 451,346.49 451.5,346.47 452,346.51 452.5,346.52 453,346.42 453.5,346.46 454,346.48 454.5,346.42 455,346.34 455.5,346.04 456,345.94 456.5,345.91 457,345.96 457.5,346.15 458,346.18 458.5,346.23 459,346.25 459.5,346.25 460,346.25 460.5,346.22 461,346.27 461.5,346.17 462,346.11 462.5,346.15 463,346.07 463.5,346.10 464,346.16 464.5,346.21 465,346.25 465.5,345.98 466,345.79 466.5,345.86 467,346.09 467.5,346.48 468,346.53 468.5,346.51 469,346.34 469.5,346.15 470,346.14 470.5,346.22 471,346.34 471.5,346.31 472,346.22 472.5,346.23 473,346.20 473.5,346.29 474,346.43 474.5,346.47 475,346.56 475.5,346.56 476,346.49 476.5,346.44 477,346.36 477.5,346.32 478,346.39 478.5,346.54 479,346.55 479.5,346.40 480,346.24 480.5,346.14 481,346.14 481.5,346.22 482,346.31 482.5,346.25 483,346.01 483.5,345.67 484,345.72 484.5,345.96 485,346.27 485.5,346.32 486,346.23 486.5,346.10 487,345.88 487.5,345.70 488,345.68 488.5,345.96 489,346.24 489.5,346.37 490,346.24 490.5,346.18 491,346.15 491.5,346.20 492,346.26 492.5,346.17 493,346.12 493.5,346.06 494,345.96 494.5,345.99 495,346.07 495.5,346.23 496,346.22 496.5,346.23 497,346.25 497.5,346.22 498,346.25 498.5,346.07 499,345.94 499.5,345.99 500,346.10 500.5,346.27 501,346.44 501.5,346.37 502,346.33 502.5,346.20 503,346.23 503.5,346.32 504,346.37 504.5,346.42 505,346.36 505.5,346.50 506,346.46 506.5,346.47 507,346.56 507.5,346.40 508,346.45 508.5,346.35 509,346.37 509.5,346.37 510,346.26 510.5,346.14 511,346.06 511.5,346.24 512,346.30 512.5,346.21 513,345.99 513.5,345.75 514,345.88 514.5,346.09 515,346.10 515.5,346.17 516,346.18 516.5,346.33 517,346.36 517.5,346.34 518,346.36 518.5,346.21 519,346.05 519.5,345.84 520,345.88 520.5,346.13 521,346.22 521.5,346.22 522,346.35 522.5,346.41 523,346.45 523.5,346.39 524,346.13 524.5,346.14 525,346.27 525.5,346.31 526,346.44 526.5,346.38 527,346.34 527.5,346.30 528,346.14 528.5,346.01 529,345.98 529.5,346.05 530,346.14 530.5,346.15 531,346.01 531.5,345.95 532,346.03 532.5,346.20 533,346.27 533.5,346.30 534,346.40 534.5,346.47 535,346.67 535.5,346.69 536,346.68 536.5,346.60 537,346.50 537.5,346.37 538,346.27 538.5,346.24 539,346.04 539.5,345.94 540,345.97 540.5,346.15 541,346.47 541.5,346.60 542,346.28 542.5,346.10 543,345.96 543.5,346.00 544,346.15 544.5,346.08 545,346.04 545.5,346.15 546,346.29 546.5,346.34 547,346.30 547.5,346.24 548,346.28 548.5,346.36 549,346.24 549.5,346.04 550,345.87 550.5,345.67 551,345.72 551.5,345.74 552,345.78 552.5,345.72 553,345.60 553.5,345.72 554,345.81 554.5,345.84 555,345.53 555.5,345.20 556,345.04 556.5,345.04 557,345.10 557.5,344.94 558,344.77 558.5,344.59 559,344.71 559.5,344.91 560,345.01 560.5,345.07 561,345.08 561.5,345.10 562,345.08 562.5,344.97 563,345.05 563.5,345.33 564,345.65 564.5,345.89 565,346.01 565.5,346.03 566,346.12 566.5,346.11 567,346.02 567.5,346.00 568,345.95 568.5,346.05 569,346.19 569.5,346.27 570,346.17 570.5,346.18 571,346.31 571.5,346.52 572,346.64 572.5,346.58 573,346.34 573.5,346.20 574,346.27 574.5,346.39 575,346.48 575.5,346.50 576,346.42 576.5,346.47 577,346.43 577.5,346.27 578,346.26 578.5,346.30 579,346.48 579.5,346.53 580,346.48 580.5,346.47 581,346.51 581.5,346.44 582,346.36 582.5,346.26 583,346.26 583.5,346.47 584,346.44 584.5,346.45 585,346.29 585.5,346.14 586,346.15 586.5,346.14 587,346.25 587.5,346.26 588,346.27 588.5,346.28 589,346.20 589.5,346.08 590,346.03 590.5,346.14 591,346.44 591.5,346.81 592,346.95 592.5,346.81 593,346.62 593.5,346.46 594,346.52 594.5,346.50 595,346.41 595.5,346.35 596,346.27 596.5,346.21 597,346.27 597.5,346.21 598,346.29 598.5,346.32 599,346.41 599.5,346.68 600,346.63 600.5,346.68 601,346.57 601.5,346.69 602,346.92 602.5,346.92 603,346.96 603.5,346.80 604,346.63 604.5,346.66 605,346.68 605.5,346.80 606,346.95 606.5,347.01 607,347.09 607.5,347.03 608,346.92 608.5,346.82 609,346.76 609.5,346.76 610,346.88 610.5,346.97 611,347.16 611.5,347.14 612,346.96 612.5,346.83 613,346.68 613.5,346.72 614,346.73 614.5,346.75 615,346.92 615.5,347.08 616,347.09 616.5,347.00 617,346.88 617.5,346.94 618,347.01 618.5,347.08 619,346.94 619.5,346.85 620,346.98 620.5,346.84 621,346.85 621.5,346.89 622,346.89 622.5,347.03 623,346.92 623.5,346.66 624,346.53 624.5,346.58 625,346.68 625.5,346.87 626,346.96 626.5,346.99 627,346.93 627.5,346.85 628,346.82 628.5,346.82 629,346.88 629.5,346.73 630,346.73 630.5,346.87 631,347.24 631.5,347.52 632,347.60 632.5,347.56 633,347.35 633.5,347.26 634,347.05 634.5,346.99 635,347.01 635.5,346.93 636,347.07 636.5,347.18 637,347.31 637.5,347.43 638,347.45 638.5,347.40 639,347.23 639.5,346.99 640,346.89 640.5,347.00 641,347.04 641.5,347.13 642,347.14 642.5,347.31 643,347.52 643.5,347.42 644,347.34 644.5,347.13 645,346.97 645.5,346.95 646,347.00 646.5,347.21 647,347.27 647.5,347.30 648,347.24 648.5,347.16 649,347.28 649.5,347.24 650,347.34 650.5,347.35 651,347.20 651.5,347.20 652,347.03 652.5,346.95 653,346.93 653.5,346.93 654,347.06 654.5,347.00 655,346.85 655.5,346.85 656,347.01 656.5,347.15 657,347.22 657.5,347.19 658,347.27 658.5,347.32 659,347.38 659.5,347.36 660,347.41 660.5,347.54 661,347.40 661.5,347.31 662,347.18 662.5,347.24 663,347.27 663.5,347.19 664,347.16 664.5,347.20 665,347.27 665.5,347.18 666,347.11 666.5,347.06 667,347.15 667.5,347.28 668,347.33 668.5,347.20 669,347.14 669.5,347.20 670,347.45 670.5,347.73 671,347.51 671.5,347.41 672,347.36 672.5,347.44 673,347.54 673.5,347.40 674,347.31 674.5,347.36 675,347.45"/>
<path d="M52,409.10 52.5,410.57 53,411.91 53.5,413.05 54,413.90 54.5,414.57 55,415.20 55.5,415.74 56,416.14 56.5,416.37 57,416.41 57.5,416.39 58,416.35 58.5,416.28 59,416.21 59.5,416.12 60,415.97 60.5,415.79 61,415.56 61.5,415.29 62,414.99 62.5,414.56 63,414.05 63.5,413.48 64,412.91 64.5,412.34 65,411.75 65.5,411.12 66,410.44 66.5,409.71 67,408.88 67.5,407.93 68,406.87 68.5,405.71 69,404.43 69.5,402.96 70,401.20 70.5,398.91 71,396.07 71.5,392.76 72,388.59 72.5,383.74 73,378.61 73.5,373.02 74,366.89 74.5,359.88 75,351.58 75.5,341.99 76,330.56 76.5,315.97 77,300.96 77.5,291.36 78,286.46 78.5,283.04 79,279.88 79.5,277.34 80,276.59 80.5,278.01 81,280.68 81.5,283.61 82,286.91 82.5,291.27 83,298.81 83.5,307.97 84,313.87 84.5,319.02 85,325.40 85.5,334.24 86,343.40 86.5,352.77 87,361.48 87.5,369.04 88,376.53 88.5,385.71 89,396.52 89.5,403.77 90,407.55 90.5,410.30 91,412.44 91.5,414.51 92,416.56 92.5,418.43 93,420.08 93.5,421.50 94,422.55 94.5,423.44 95,423.92 95.5,424.62 96,425.35 96.5,425.92 97,426.31 97.5,426.65 98,427.05 98.5,427.33 99,427.60 99.5,427.85 100,428.26 100.5,428.78 101,429.23 101.5,429.56 102,429.62 102.5,429.66 103,429.56 103.5,429.68 104,429.98 104.5,430.26 105,430.55 105.5,430.66 106,430.79 106.5,430.92 107,431.12 107.5,431.22 108,431.24 108.5,431.27 109,431.42 109.5,431.69 110,431.87 110.5,431.98 111,432.02 111.5,431.96 112,431.89 112.5,431.71 113,431.75 113.5,431.97 114,432.21 114.5,432.62 115,432.75 115.5,432.80 116,432.71 116.5,432.40 117,432.33 117.5,432.31 118,432.49 118.5,432.72 119,432.72 119.5,432.80 120,432.86 120.5,432.94 121,432.96 121.5,432.89 122,433.01 122.5,433.26 123,433.29 123.5,433.32 124,433.24 124.5,433.17 125,433.26 125.5,433.06 126,432.98 126.5,432.73 127,432.49 127.5,432.33 128,432.30 128.5,432.52 129,432.66 129.5,432.72 130,432.55 130.5,432.59 131,432.80 131.5,433.05 132,433.20 132.5,433.15 133,433.14 133.5,433.30 134,433.42 134.5,433.51 135,433.67 135.5,433.79 136,434.06 136.5,434.12 137,434.03 137.5,434.03 138,434.00 138.5,434.01 139,433.90 139.5,433.64 140,433.64 140.5,433.64 141,433.64 141.5,433.71 142,433.56 142.5,433.47 143,433.37 143.5,433.29 144,433.41 144.5,433.56 145,433.67 145.5,433.66 146,433.62 146.5,433.52 147,433.37 147.5,433.34 148,433.33 148.5,433.47 149,433.58 149.5,433.46 150,433.34 150.5,433.15 151,433.20 151.5,433.11 152,432.90 152.5,432.71 153,432.55 153.5,432.58 154,432.38 154.5,432.04 155,431.74 155.5,431.61 156,431.54 156.5,431.11 157,430.25 157.5,428.89 158,427.08 158.5,425.08 159,423.00 159.5,421.83 160,422.36 160.5,424.15 161,426.23 161.5,427.93 162,429.13 162.5,429.89 163,430.42 163.5,430.77 164,431.08 164.5,431.30 165,431.40 165.5,431.63 166,431.84 166.5,432.10 167,432.22 167.5,432.13 168,432.00 168.5,431.99 169,432.09 169.5,432.22 170,432.45 170.5,432.50 171,432.58 171.5,432.57 172,432.60 172.5,432.71 173,432.73 173.5,432.86 174,432.96 174.5,433.09 175,433.33 175.5,433.41 176,433.54 176.5,433.70 177,433.69 177.5,433.84 178,433.74 178.5,433.73 179,433.78 179.5,433.81 180,433.83 180.5,433.66 181,433.54 181.5,433.53 182,433.71 182.5,433.85 183,433.90 183.5,433.85 184,433.72 184.5,433.66 185,433.74 185.5,433.92 186,434.03 186.5,434.09 187,433.93 187.5,433.87 188,433.80 188.5,433.73 189,433.72 189.5,433.58 190,433.56 190.5,433.65 191,433.75 191.5,433.84 192,433.85 192.5,433.78 193,433.83 193.5,433.82 194,433.71 194.5,433.62 195,433.59 195.5,433.54 196,433.62 196.5,433.52 197,433.52 197.5,433.51 198,433.45 198.5,433.54 199,433.60 199.5,433.65 200,433.55 200.5,433.50 201,433.27 201.5,433.33 202,433.48 202.5,433.49 203,433.70 203.5,433.62 204,433.61 204.5,433.49 205,433.27 205.5,433.19 206,433.21 206.5,433.36 207,433.36 207.5,433.17 208,433.09 208.5,433.07 209,433.17 209.5,433.35 210,433.37 210.5,433.45 211,433.62 211.5,433.66 212,433.74 212.5,433.70 213,433.52 213.5,433.38 214,433.27 214.5,433.25 215,433.38 215.5,433.51 216,433.48 216.5,433.48 217,433.41 217.5,433.44 218,433.57 218.5,433.63 219,433.55 219.5,433.53 220,433.40 220.5,433.44 221,433.50 221.5,433.42 222,433.36 222.5,433.23 223,433.12 223.5,433.28 224,433.49 224.5,433.54 225,433.57 225.5,433.55 226,433.62 226.5,433.64 227,433.39 227.5,433.04 228,433.08 228.5,433.30 229,433.44 229.5,433.52 230,433.42 230.5,433.38 231,433.39 231.5,433.30 232,433.46 232.5,433.52 233,433.51 233.5,433.57 234,433.64 234.5,433.71 235,433.81 235.5,433.81 236,433.66 236.5,433.74 237,433.50 237.5,433.47 238,433.45 238.5,433.19 239,433.28 239.5,433.33 240,433.50 240.5,433.62 241,433.55 241.5,433.51 242,433.42 242.5,433.43 243,433.48 243.5,433.53 244,433.54 244.5,433.47 245,433.36 245.5,433.33 246,433.30 246.5,433.45 247,433.56 247.5,433.56 248,433.58 248.5,433.59 249,433.75 249.5,433.81 250,433.96 250.5,433.97 251,433.97 251.5,434.11 252,433.99 252.5,434.03 253,433.98 253.5,433.74 254,433.68 254.5,433.64 255,433.59 255.5,433.65 256,433.74 256.5,433.75 257,433.89 257.5,433.84 258,433.71 258.5,433.66 259,433.62 259.5,433.73 260,433.83 260.5,434.05 261,434.16 261.5,434.15 262,434.23 262.5,434.12 263,433.98 263.5,433.82 264,433.54 264.5,433.51 265,433.62 265.5,433.66 266,433.60 266.5,433.36 267,433.11 267.5,432.99 268,432.81 268.5,432.52 269,432.24 269.5,431.95 270,431.74 270.5,431.49 271,431.07 271.5,430.71 272,430.46 272.5,430.23 273,430.05 273.5,429.84 274,429.65 274.5,429.77 275,429.74 275.5,429.67 276,429.73 276.5,429.72 277,429.93 277.5,429.90 278,429.96 278.5,430.26 279,430.61 279.5,430.95 280,431.11 280.5,431.28 281,431.52 281.5,431.78 282,432.03 282.5,432.13 283,432.16 283.5,432.06 284,432.07 284.5,432.34 285,432.58 285.5,433.04 286,433.09 286.5,433.02 287,432.90 287.5,432.71 288,432.75 288.5,432.69 289,432.64 289.5,432.81 290,432.94 290.5,433.15 291,433.09 291.5,432.89 292,432.91 292.5,432.89 293,432.94 293.5,432.89 294,432.85 294.5,432.94 295,433.10 295.5,433.05 296,432.81 296.5,432.60 297,432.55 297.5,432.77 298,433.03 298.5,433.03 299,433.13 299.5,433.12 300,432.94 300.5,432.91 301,432.79 301.5,432.86 302,432.84 302.5,432.66 303,432.62 303.5,432.64 304,432.81 304.5,432.94 305,433.08 305.5,433.20 306,433.12 306.5,433.07 307,432.98 307.5,432.94 308,432.87 308.5,432.58 309,432.26 309.5,432.08 310,432.04 310.5,432.17 311,432.34 311.5,432.17 312,431.87 312.5,431.53 313,431.17 313.5,430.80 314,430.22 314.5,429.58 315,429.61 315.5,430.22 316,431.06 316.5,431.88 317,432.36 317.5,432.74 318,432.94 318.5,433.13 319,433.45 319.5,433.64 320,433.78 320.5,433.85 321,433.79 321.5,433.77 322,433.78 322.5,433.91 323,434.15 323.5,434.37 324,434.31 324.5,434.14 325,433.83 325.5,433.60 326,433.55 326.5,433.65 327,433.90 327.5,433.96 328,434.03 328.5,433.98 329,434.13 329.5,434.33 330,434.32 330.5,434.20 331,434.08 331.5,434.06 332,434.03 332.5,433.91 333,433.88 333.5,433.86 334,433.90 334.5,434.00 335,433.98 335.5,434.13 336,434.08 336.5,434.03 337,433.92 337.5,433.72 338,433.64 338.5,433.60 339,433.71 339.5,433.74 340,433.85 340.5,433.84 341,433.90 341.5,433.97 342,433.89 342.5,433.98 343,434.04 343.5,434.05 344,434.15 344.5,434.10 345,433.95 345.5,433.89 346,433.77 346.5,433.85 347,433.93 347.5,433.91 348,434.00 348.5,434.03 349,433.86 349.5,433.73 350,433.67 350.5,433.78 351,434.00 351.5,433.91 352,433.84 352.5,433.88 353,433.84 353.5,433.73 354,433.59 354.5,433.40 355,433.47 355.5,433.65 356,433.74 356.5,433.93 357,433.88 357.5,433.86 358,434.00 358.5,434.14 359,434.25 359.5,434.28 360,434.25 360.5,434.13 361,434.17 361.5,434.09 362,434.07 362.5,434.24 363,434.31 363.5,434.32 364,434.20 364.5,433.96 365,433.89 365.5,433.82 366,433.78 366.5,433.72 367,433.75 367.5,433.90 368,434.02 368.5,434.33 369,434.24 369.5,434.03 370,433.76 370.5,433.57 371,433.79 371.5,433.93 372,433.97 372.5,433.87 373,433.72 373.5,433.71 374,433.78 374.5,433.77 375,433.78 375.5,433.85 376,433.96 376.5,433.99 377,433.99 377.5,434.03 378,434.10 378.5,434.08 379,433.83 379.5,433.71 380,433.66 380.5,433.66 381,433.79 381.5,433.93 382,434.14 382.5,434.33 383,434.35 383.5,434.20 384,434.15 384.5,434.07 385,434.08 385.5,434.26 386,434.26 386.5,434.37 387,434.34 387.5,434.18 388,434.02 388.5,433.86 389,433.74 389.5,433.72 390,433.77 390.5,433.80 391,433.74 391.5,433.50 392,433.50 392.5,433.58 393,433.90 393.5,434.03 394,434.01 394.5,433.94 395,433.76 395.5,433.76 396,433.82 396.5,434.10 397,434.30 397.5,434.22 398,434.06 398.5,433.88 399,433.80 399.5,433.94 400,434.08 400.5,434.13 401,434.22 401.5,434.25 402,434.11 402.5,434.19 403,434.23 403.5,434.24 404,434.39 404.5,434.26 405,434.21 405.5,434.20 406,434.01 406.5,433.93 407,433.80 407.5,433.73 408,433.67 408.5,433.54 409,433.43 409.5,433.54 410,433.54 410.5,433.57 411,433.56 411.5,433.42 412,433.56 412.5,433.53 413,433.68 413.5,433.76 414,433.75 414.5,433.75 415,433.69 415.5,433.78 416,433.74 416.5,433.70 417,433.73 417.5,433.68 418,433.81 418.5,433.77 419,433.58 419.5,433.39 420,433.11 420.5,432.99 421,432.98 421.5,433.16 422,433.30 422.5,433.39 423,433.28 423.5,433.12 424,432.97 424.5,432.86 425,433.00 425.5,433.13 426,433.12 426.5,433.03 427,432.84 427.5,432.64 428,432.36 428.5,431.78 429,431.09 429.5,430.79 430,430.91 430.5,431.18 431,431.40 431.5,431.64 432,431.98 432.5,432.55 433,433.04 433.5,433.15 434,433.24 434.5,433.36 435,433.37 435.5,433.50 436,433.52 436.5,433.56 437,433.64 437.5,433.51 438,433.48 438.5,433.36 439,433.34 439.5,433.35 440,433.41 440.5,433.56 441,433.64 441.5,433.79 442,433.78 442.5,433.75 443,433.45 443.5,433.17 444,433.01 444.5,432.99 445,433.14 445.5,433.13 446,433.23 446.5,433.44 447,433.64 447.5,433.80 448,433.98 448.5,434.11 449,434.33 449.5,434.43 450,434.31 450.5,434.26 451,434.20 451.5,434.23 452,434.18 452.5,434.07 453,433.98 453.5,433.91 454,433.94 454.5,433.99 455,433.95 455.5,433.95 456,434.06 456.5,434.31 457,434.33 457.5,434.13 458,433.99 458.5,434.00 459,434.20 459.5,434.24 460,434.18 460.5,434.09 461,434.13 461.5,434.09 462,434.06 462.5,434.19 463,434.27 463.5,434.38 464,434.32 464.5,434.11 465,433.95 465.5,433.91 466,434.01 466.5,434.08 467,434.14 467.5,434.15 468,434.10 468.5,434.09 469,434.07 469.5,434.05 470,434.03 470.5,433.98 471,433.72 471.5,433.67 472,433.75 472.5,433.85 473,433.94 473.5,433.86 474,433.75 474.5,433.80 475,433.87 475.5,433.96 476,434.10 476.5,433.90 477,433.77 477.5,433.64 478,433.70 478.5,433.93 479,434.00 479.5,434.00 480,434.07 480.5,434.07 481,433.93 481.5,433.87 482,433.59 482.5,433.72 483,433.92 483.5,434.04 484,434.21 484.5,434.10 485,433.89 485.5,433.66 486,433.59 486.5,433.62 487,433.76 487.5,433.75 488,433.63 488.5,433.63 489,433.70 489.5,433.81 490,433.78 490.5,433.57 491,433.61 491.5,433.64 492,433.67 492.5,433.63 493,433.56 493.5,433.66 494,433.77 494.5,433.84 495,433.72 495.5,433.73 496,433.59 496.5,433.56 497,433.69 497.5,433.74 498,433.76 498.5,433.68 499,433.60 499.5,433.68 500,433.60 500.5,433.42 501,433.39 501.5,433.46 502,433.70 502.5,433.84 503,433.80 503.5,433.77 504,433.75 504.5,433.80 505,433.88 505.5,433.93 506,433.82 506.5,433.74 507,433.63 507.5,433.58 508,433.64 508.5,433.68 509,433.88 509.5,434.03 510,434.09 510.5,434.04 511,433.91 511.5,433.81 512,433.91 512.5,434.03 513,434.01 513.5,433.88 514,433.80 514.5,433.77 515,433.85 515.5,433.89 516,433.92 516.5,433.95 517,433.92 517.5,433.90 518,433.92 518.5,434.11 519,434.12 519.5,434.07 520,434.02 520.5,433.84 521,433.80 521.5,433.72 522,433.58 522.5,433.52 523,433.36 523.5,433.48 524,433.73 524.5,433.95 525,434.13 525.5,434.08 526,433.98 526.5,433.83 527,433.77 527.5,433.88 528,434.08 528.5,434.12 529,433.99 529.5,433.77 530,433.74 530.5,433.91 531,434.04 531.5,434.12 532,434.00 532.5,433.89 533,433.92 533.5,433.93 534,433.99 534.5,434.04 535,433.91 535.5,433.78 536,433.59 536.5,433.57 537,433.60 537.5,433.74 538,433.90 538.5,434.04 539,434.00 539.5,433.67 540,433.53 540.5,433.69 541,433.93 541.5,434.09 542,433.95 542.5,433.78 543,433.83 543.5,433.77 544,433.83 544.5,433.97 545,433.94 545.5,434.03 546,433.82 546.5,433.64 547,433.54 547.5,433.55 548,433.62 548.5,433.38 549,433.24 549.5,432.85 550,432.70 550.5,432.48 551,432.30 551.5,432.23 552,432.06 552.5,431.84 553,431.37 553.5,430.84 554,430.49 554.5,430.25 555,429.94 555.5,429.59 556,429.17 556.5,428.90 557,429.06 557.5,429.24 558,429.45 558.5,429.92 559,430.21 559.5,430.55 560,430.92 560.5,431.21 561,431.62 561.5,431.90 562,431.94 562.5,432.08 563,432.22 563.5,432.34 564,432.44 564.5,432.58 565,432.79 565.5,433.17 566,433.30 566.5,433.35 567,433.31 567.5,433.18 568,433.24 568.5,433.39 569,433.62 569.5,433.82 570,433.71 570.5,433.61 571,433.56 571.5,433.50 572,433.63 572.5,433.59 573,433.66 573.5,433.73 574,433.80 574.5,433.79 575,433.84 575.5,433.94 576,434.10 576.5,434.19 577,434.04 577.5,433.95 578,433.80 578.5,433.74 579,433.75 579.5,433.76 580,433.80 580.5,433.83 581,433.75 581.5,433.77 582,433.74 582.5,433.90 583,434.04 583.5,434.16 584,434.16 584.5,434.02 585,433.99 585.5,434.04 586,434.23 586.5,434.13 587,434.14 587.5,433.97 588,434.02 588.5,434.15 589,434.04 589.5,434.12 590,434.06 590.5,434.04 591,434.02 591.5,433.98 592,433.94 592.5,433.93 593,434.09 593.5,434.13 594,434.27 594.5,434.32 595,434.31 595.5,434.47 596,434.27 596.5,434.07 597,434.05 597.5,434.07 598,434.40 598.5,434.49 599,434.35 599.5,434.35 600,434.38 600.5,434.44 601,434.55 601.5,434.40 602,434.21 602.5,434.25 603,434.30 603.5,434.45 604,434.53 604.5,434.71 605,434.68 605.5,434.48 606,434.36 606.5,434.27 607,434.33 607.5,434.55 608,434.52 608.5,434.45 609,434.48 609.5,434.46 610,434.79 610.5,434.87 611,434.67 611.5,434.47 612,434.32 612.5,434.48 613,434.55 613.5,434.45 614,434.41 614.5,434.49 615,434.71 615.5,434.83 616,434.85 616.5,434.80 617,434.70 617.5,434.62 618,434.47 618.5,434.58 619,434.67 619.5,434.58 620,434.41 620.5,434.18 621,434.34 621.5,434.40 622,434.38 622.5,434.51 623,434.66 623.5,434.94 624,435.09 624.5,434.97 625,434.93 625.5,434.84 626,434.70 626.5,434.79 627,434.77 627.5,434.86 628,434.98 628.5,434.93 629,435.02 629.5,435.22 630,435.30 630.5,435.43 631,435.40 631.5,435.17 632,435.01 632.5,434.86 633,434.69 633.5,434.77 634,434.91 634.5,435.04 635,435.27 635.5,435.38 636,435.38 636.5,435.42 637,435.44 637.5,435.42 638,435.41 638.5,435.36 639,435.29 639.5,435.29 640,435.39 640.5,435.34 641,435.28 641.5,435.10 642,435.01 642.5,435.14 643,435.33 643.5,435.57 644,435.77 644.5,435.80 645,435.65 645.5,435.34 646,435.23 646.5,435.30 647,435.39 647.5,435.43 648,435.34 648.5,435.12 649,435.05 649.5,435.10 650,435.22 650.5,435.34 651,435.30 651.5,435.33 652,435.55 652.5,435.79 653,435.86 653.5,435.78 654,435.50 654.5,435.32 655,435.16 655.5,435.16 656,435.37 656.5,435.59 657,435.82 657.5,435.83 658,435.79 658.5,435.70 659,435.48 659.5,435.38 660,435.33 660.5,435.30 661,435.35 661.5,435.14 662,435.08 662.5,435.32 663,435.46 663.5,435.75 664,435.81 664.5,435.71 665,435.55 665.5,435.44 666,435.53 666.5,435.58 667,435.61 667.5,435.60 668,435.60 668.5,435.74 669,435.60 669.5,435.41 670,435.48 670.5,435.47 671,435.51 671.5,435.39 672,435.31 672.5,435.33 673,435.43 673.5,435.60 674,435.84 674.5,436.00 675,435.98"/>
</g>
<g stroke="#5a5a5a" stroke-width="1.9" fill="none">
<rect x="52" y="1.5" width="623.4" height="436.4"/>
<line x1="52" y1="437.9" x2="52" y2="442"/>
<line x1="675.4" y1="437.9" x2="675.4" y2="443.6"/>
<line x1="108.30" y1="437.9" x2="108.30" y2="442"/><line x1="165.01" y1="437.9" x2="165.01" y2="442"/><line x1="221.72" y1="437.9" x2="221.72" y2="442"/><line x1="278.43" y1="437.9" x2="278.43" y2="442"/><line x1="335.14" y1="437.9" x2="335.14" y2="442"/><line x1="391.85" y1="437.9" x2="391.85" y2="442"/><line x1="448.56" y1="437.9" x2="448.56" y2="442"/><line x1="505.27" y1="437.9" x2="505.27" y2="442"/><line x1="561.98" y1="437.9" x2="561.98" y2="442"/><line x1="618.69" y1="437.9" x2="618.69" y2="442"/><line x1="675.40" y1="437.9" x2="675.40" y2="442"/>
</g>
<g fill="#404040" font-size="17.6">
<text transform="translate(108.30,467.7) scale(1,1.05)" text-anchor="middle">10</text><text transform="translate(221.72,467.7) scale(1,1.05)" text-anchor="middle">20</text><text transform="translate(335.14,467.7) scale(1,1.05)" text-anchor="middle">30</text><text transform="translate(448.56,467.7) scale(1,1.05)" text-anchor="middle">40</text><text transform="translate(561.98,467.7) scale(1,1.05)" text-anchor="middle">50</text><text transform="translate(675.40,467.7) scale(1,1.05)" text-anchor="middle">60</text>
</g>
<text transform="translate(265.6,506.2) scale(1,1.06)" font-size="21" fill="#404040">Two-Theta (degrees)</text>
<text transform="translate(16.9,311.2) rotate(-90)" font-size="21" fill="#404040">Intensity (arb. units)</text>
<g fill="#4a4a4a" font-size="16" text-anchor="end">
<text x="567.8" y="175.2">Ni-GB</text>
<text x="567.8" y="260">Ca-GB</text>
<text x="567.8" y="338.8">Mg-GB</text>
<text x="670" y="428.5">Unreacted GB</text>
</g>
<g fill="#555" font-size="14.5">
<text x="141.6" y="167.8">(020)<tspan font-size="10" dy="2">b</tspan></text>
<text x="296.6" y="174.8">(120)<tspan font-size="10" dy="2">b</tspan></text>
<text x="412.9" y="176.1">(140)<tspan font-size="10" dy="2">b</tspan></text>
</g>
<text x="62" y="22.2" fill="#5555dd" stroke="#5555dd" stroke-width="0.3" font-size="14.6">(020)<tspan font-size="9.6" dy="2.5">GB</tspan></text>
</svg>
</body></html>
